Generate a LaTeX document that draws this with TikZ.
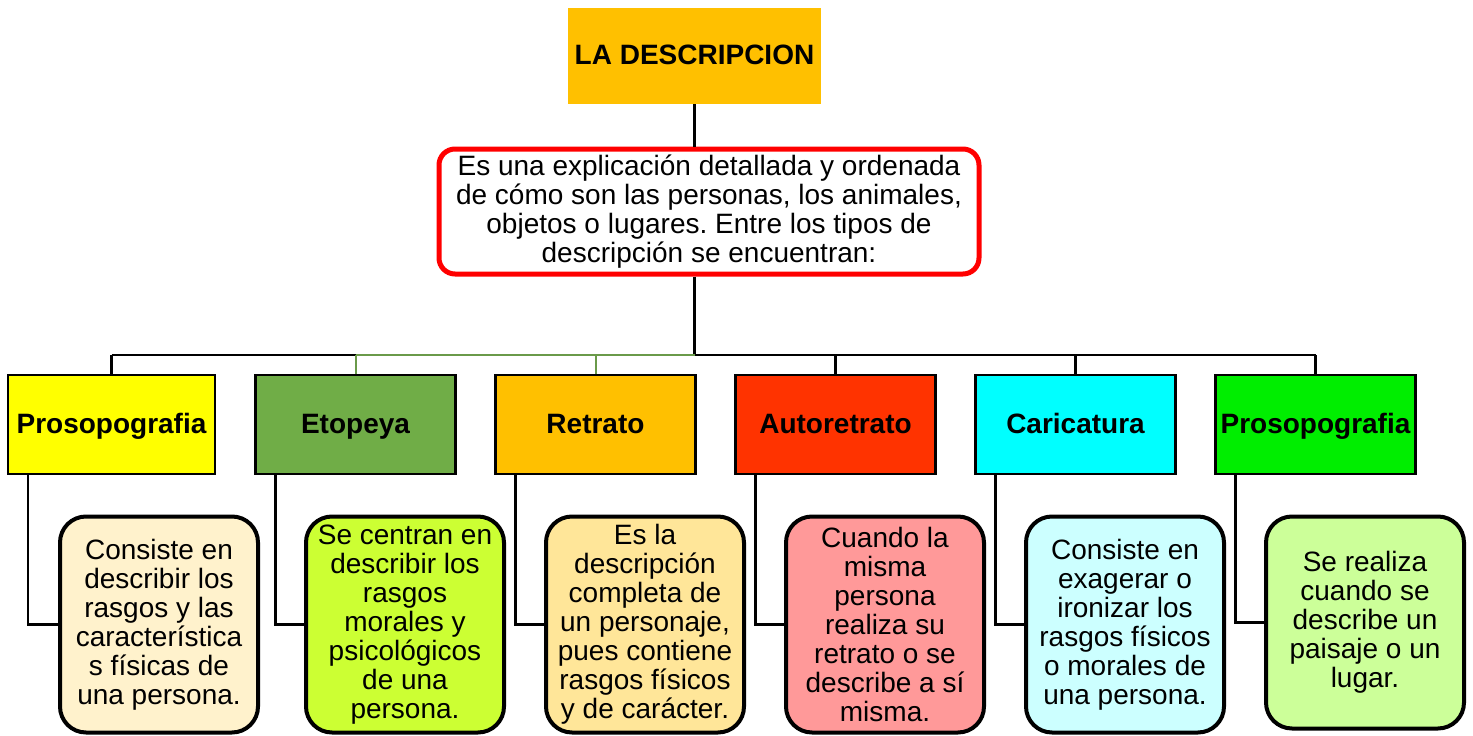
\documentclass[tikz,border=0pt]{standalone}
\usepackage{fontspec}
\setmainfont{Liberation Sans}
\frenchspacing
\definecolor{cTitle}{HTML}{FFC000}
\definecolor{cYel}{HTML}{FFFF00}
\definecolor{cEto}{HTML}{70AD47}
\definecolor{cRet}{HTML}{FFC000}
\definecolor{cAut}{HTML}{FF3300}
\definecolor{cCar}{HTML}{00FFFF}
\definecolor{cPro}{HTML}{00EE00}
\definecolor{bYel}{HTML}{FFF2CC}
\definecolor{bLime}{HTML}{CCFF33}
\definecolor{bOra}{HTML}{FFE699}
\definecolor{bRed}{HTML}{FF9999}
\definecolor{bCya}{HTML}{CCFFFF}
\definecolor{bGre}{HTML}{CCFF99}
\definecolor{gLine}{HTML}{6A9A4A}
\definecolor{redLine}{HTML}{FF0000}
\tikzset{
  txt/.style={font=\fontsize{28}{29}\selectfont, align=center, inner sep=0pt},
  catbox/.style={txt, font=\fontsize{28}{29}\selectfont\bfseries, draw=black, line width=2.5pt, minimum width=200pt, minimum height=99pt, text height=21pt, text depth=4pt},
  descbox/.style={txt, draw=black, line width=4pt, rounded corners=26pt, minimum width=198pt, minimum height=216pt},
  link/.style={draw=black, line width=2.5pt},
  glink/.style={draw=gLine, line width=2pt}
}
\begin{document}
\begin{tikzpicture}[x=1pt,y=-1pt]
\useasboundingbox (0,0) rectangle (1473,736);
% title
\node[txt, font=\fontsize{28}{29}\selectfont\bfseries, fill=cTitle, minimum width=253pt, minimum height=96pt, text height=21pt, text depth=4pt] (title) at (694.5,56) {LA DESCRIPCION};
\node[txt, draw=redLine, line width=5pt, rounded corners=16pt, minimum width=540pt, minimum height=125pt] (desc) at (709,211.5) {Es una explicación detallada y ordenada\\de cómo son las personas, los animales,\\objetos o lugares. Entre los tipos de\\descripción se encuentran:};
% categories
\node[catbox, fill=cYel, minimum width=207pt] (c1) at (111.5,424.5) {Prosopografia};
\node[catbox, fill=cEto] (c2) at (355.5,424.5) {Etopeya};
\node[catbox, fill=cRet] (c3) at (595.5,424.5) {Retrato};
\node[catbox, fill=cAut] (c4) at (835.5,424.5) {Autoretrato};
\node[catbox, fill=cCar] (c5) at (1075.5,424.5) {Caricatura};
\node[catbox, fill=cPro] (c6) at (1315.5,424.5) {Prosopografia};
% descriptions
\node[descbox, fill=bYel] (d1) at (159,624.5) {Consiste en\\describir los\\rasgos y las\\característica\\s físicas de\\una persona.};
\node[descbox, fill=bLime] (d2) at (405,624.5) {Se centran en\\describir los\\rasgos\\morales y\\psicológicos\\de una\\persona.};
\node[descbox, fill=bOra] (d3) at (645,624.5) {Es la\\descripción\\completa de\\un personaje,\\pues contiene\\rasgos físicos\\y de carácter.};
\node[descbox, fill=bRed] (d4) at (885,624.5) {Cuando la\\misma\\persona\\realiza su\\retrato o se\\describe a sí\\misma.};
\node[descbox, fill=bCya] (d5) at (1125,624.5) {Consiste en\\exagerar o\\ironizar los\\rasgos físicos\\o morales de\\una persona.};
\node[descbox, fill=bGre, minimum height=212pt] (d6) at (1365,622.5) {Se realiza\\cuando se\\describe un\\paisaje o un\\lugar.};
% connectors
\coordinate (bar) at (694.5,355);
\draw[link] (title.south) -- (title.south |- desc.north);
\draw[link] (title.south |- desc.south) -- (bar);
\draw[link] (c1.north |- bar) -- (c6.north |- bar);
\draw[glink] (c2.north |- bar) -- (bar);
\draw[link] (c1.north |- bar) -- (c1.north);
\draw[glink] (c2.north |- bar) -- (c2.north);
\draw[glink] (c3.north |- bar) -- (c3.north);
\draw[link] (c4.north |- bar) -- (c4.north);
\draw[link] (c5.north |- bar) -- (c5.north);
\draw[link] (c6.north |- bar) -- (c6.north);
\foreach \i in {1,...,6}{
  \draw[link] ([xshift=21pt]c\i.south west) |- (d\i.west);
}
\end{tikzpicture}
\end{document}
